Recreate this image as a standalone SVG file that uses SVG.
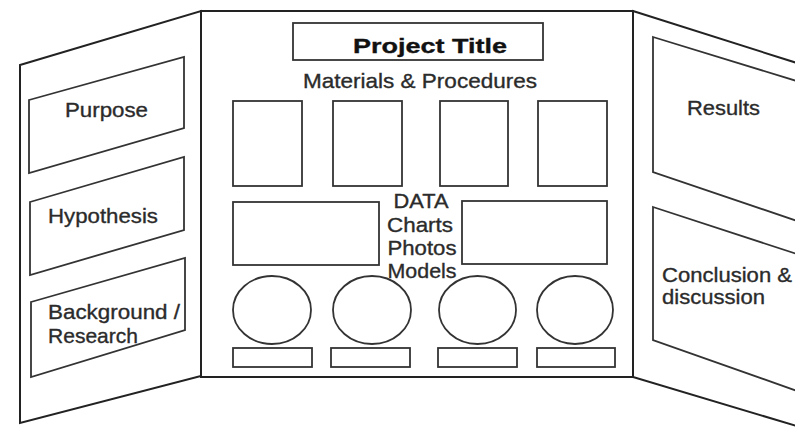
<svg xmlns="http://www.w3.org/2000/svg" width="795" height="428" viewBox="0 0 795 428">
<style>
.panel{fill:#fff;stroke:#222;stroke-width:2;stroke-linejoin:miter}
.box{fill:#fff;stroke:#333;stroke-width:1.8}
.t{font-family:"Liberation Sans",Arial,sans-serif;fill:#2b2b2b;font-size:21px;stroke:#2b2b2b;stroke-width:0.35}
.b{font-weight:bold;fill:#111;stroke:#111}
.c{text-anchor:middle}
</style>
<rect width="795" height="428" fill="#fff"/>
<g id="left-panel">
<polygon class="panel" points="20,65 201,11 201,376 20,423"/>
</g>
<g id="right-panel">
<polygon class="panel" points="633,11 800,64 800,427 633,377"/>
</g>
<g id="center-panel">
<rect class="panel" x="201" y="11" width="432" height="366"/>
</g>
<g id="purpose">
<polygon class="box" points="29,100 184,57 184,128 29,173"/>
<text class="t" x="65" y="117" textLength="83" lengthAdjust="spacingAndGlyphs">Purpose</text>
</g>
<g id="hypothesis">
<polygon class="box" points="30,202 184,157 184,230 30,275"/>
<text class="t" x="48" y="223" textLength="110" lengthAdjust="spacingAndGlyphs">Hypothesis</text>
</g>
<g id="background">
<polygon class="box" points="31,302 185,258 185,330 31,377"/>
<text class="t" x="48" y="319" textLength="132" lengthAdjust="spacingAndGlyphs">Background /</text>
<text class="t" x="48" y="343" textLength="90" lengthAdjust="spacingAndGlyphs">Research</text>
</g>
<g id="title">
<rect class="box" x="293" y="23" width="250" height="37" stroke-width="2.2" stroke="#222"/>
<text class="t b" x="353" y="53" font-size="27" textLength="154" lengthAdjust="spacingAndGlyphs">Project Title</text>
</g>
<g id="materials">
<text class="t" x="303" y="88" textLength="234" lengthAdjust="spacingAndGlyphs">Materials &amp; Procedures</text>
<rect class="box" x="233" y="101" width="69" height="85"/>
<rect class="box" x="333" y="101" width="69" height="85"/>
<rect class="box" x="440" y="101" width="68" height="85"/>
<rect class="box" x="538" y="101" width="69" height="85"/>
</g>
<g id="data">
<rect class="box" x="233" y="202" width="146" height="63"/>
<rect class="box" x="462" y="201" width="145" height="63"/>
<text class="t c" x="421" y="208" textLength="55" lengthAdjust="spacingAndGlyphs">DATA</text>
<text class="t c" x="420" y="232" textLength="66" lengthAdjust="spacingAndGlyphs">Charts</text>
<text class="t c" x="422" y="255" textLength="69" lengthAdjust="spacingAndGlyphs">Photos</text>
<text class="t c" x="422" y="278" textLength="69" lengthAdjust="spacingAndGlyphs">Models</text>
</g>
<g id="models">
<ellipse class="box" cx="272" cy="310" rx="39" ry="34"/>
<ellipse class="box" cx="372" cy="310" rx="39" ry="34"/>
<ellipse class="box" cx="477.5" cy="310" rx="38.5" ry="34"/>
<ellipse class="box" cx="575" cy="310" rx="38" ry="34"/>
<rect class="box" x="233" y="348" width="79" height="19"/>
<rect class="box" x="331" y="348" width="79" height="19"/>
<rect class="box" x="438" y="348" width="79" height="19"/>
<rect class="box" x="537" y="348" width="78" height="19"/>
</g>
<g id="results">
<polygon class="box" points="653,37 800,82 800,222 653,172"/>
<text class="t" x="687" y="115" textLength="73" lengthAdjust="spacingAndGlyphs">Results</text>
</g>
<g id="conclusion">
<polygon class="box" points="653,207 800,255 800,392 653,340"/>
<text class="t" x="662" y="282" textLength="130" lengthAdjust="spacingAndGlyphs">Conclusion &amp;</text>
<text class="t" x="662" y="304" textLength="103" lengthAdjust="spacingAndGlyphs">discussion</text>
</g>
</svg>
